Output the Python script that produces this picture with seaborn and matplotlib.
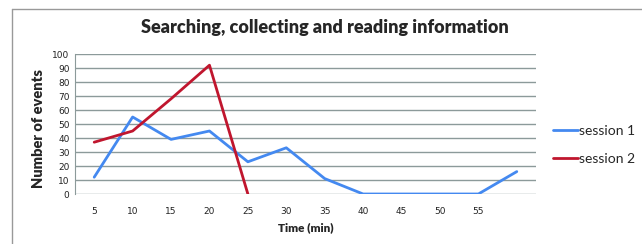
import numpy as np
import pandas as pd
import seaborn as sns
from matplotlib import pyplot as plt
from matplotlib.lines import Line2D

# values
time_s1 = [5, 10, 15, 20, 25, 30, 35, 40, 45, 50, 55, 60]
events_s1 = [12, 55, 39, 45, 23, 33, 11, 0, 0, 0, 0, 16]
time_s2 = [5, 10, 15, 20, 25]
events_s2 = [37, 45, 68, 92, 0]
tick_labels = ['5', '10', '15', '20', '25', '30', '35', '40', '45', '50', '55', '']

df = pd.concat([
    pd.DataFrame({'time': time_s1, 'events': events_s1, 'session': 'session 1'}),
    pd.DataFrame({'time': time_s2, 'events': events_s2, 'session': 'session 2'}),
])

sns.set_style('white')
plt.rcParams['font.family'] = ['Lato', 'DejaVu Sans']

fig = plt.figure(figsize=(6.42, 2.44), dpi=100)
ax = fig.add_axes([75 / 642, 1 - 194 / 244, 461 / 642, 140 / 244])

sns.lineplot(data=df, x='time', y='events', hue='session',
             palette={'session 1': '#4489f0', 'session 2': '#c0162e'},
             linewidth=2, ax=ax)

ax.set_xlim(2.5, 62.5)
ax.set_ylim(0, 100)
ax.set_xticks(time_s1)
ax.set_xticklabels(tick_labels)
ax.set_yticks(range(0, 101, 10))
ax.tick_params(axis='both', labelsize=6.5, length=0, colors='#222222')
ax.tick_params(axis='x', pad=9)
ax.tick_params(axis='y', pad=4)
for lab in ax.get_xticklabels() + ax.get_yticklabels():
    lab.set_fontfamily('DejaVu Sans')

ax.yaxis.grid(True, color='#8c9a9a', linewidth=1)
ax.set_axisbelow(True)
for s in ['top', 'right', 'bottom']:
    ax.spines[s].set_visible(False)
ax.spines['left'].set_color('#8c9a9a')

ax.set_xlabel('Time (min)', fontsize=8.5, fontweight='heavy')
ax.set_ylabel('Number of events', fontsize=10.5, fontweight='heavy')
ax.xaxis.set_label_coords(0.5, -0.2)
ax.yaxis.set_label_coords(-0.065, 0.47)

fig.text(325 / 642, 1 - 28 / 244, 'Searching, collecting and reading information',
         fontsize=13, fontweight='heavy', ha='center', va='center')

leg = ax.legend(loc='center left', bbox_to_anchor=(1.01, 0.35), frameon=False,
                fontsize=10, handlelength=1.8, handletextpad=0.1, labelspacing=1.2)

# outer chart frame (top and left visible)
fig.add_artist(Line2D([12 / 642, 1], [1 - 9 / 244, 1 - 9 / 244], color='#999999', linewidth=1))
fig.add_artist(Line2D([12 / 642, 12 / 642], [0, 1 - 9 / 244], color='#999999', linewidth=1))

fig.savefig('out.png', dpi=100)
